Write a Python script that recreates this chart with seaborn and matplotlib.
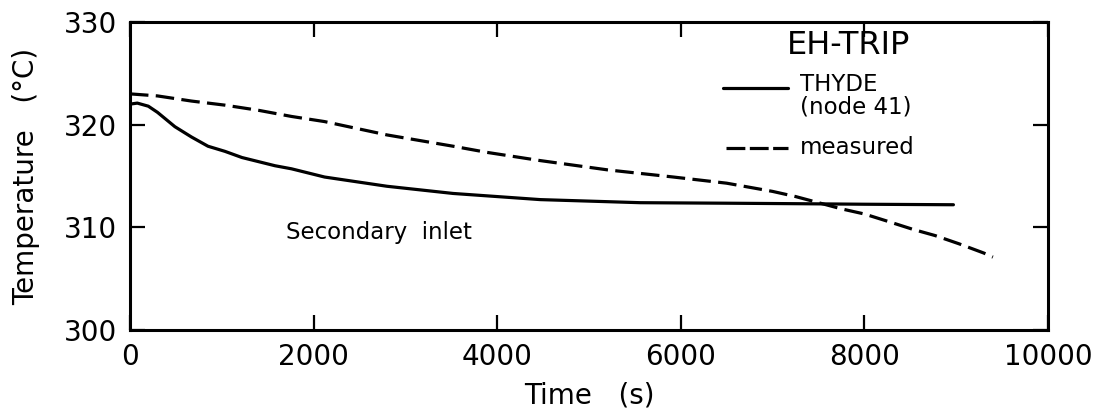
import matplotlib
matplotlib.use("Agg")
import matplotlib.pyplot as plt
import seaborn as sns
import pandas as pd
from matplotlib.lines import Line2D

# THYDE calculation, secondary inlet (node 41)
thyde_time = [0, 80, 200, 300, 490, 670, 850, 1035, 1220, 1400, 1580, 1760,
              1940, 2120, 2800, 3520, 4470, 5560, 6500, 7300, 8000, 8970]
thyde_temp = [322.0, 322.1, 321.8, 321.2, 319.8, 318.8, 317.9, 317.4, 316.8,
              316.4, 316.0, 315.7, 315.3, 314.9, 314.0, 313.3, 312.7, 312.4,
              312.35, 312.3, 312.25, 312.2]

# Measured secondary inlet temperature
meas_time = [0, 300, 670, 1035, 1400, 1760, 2120, 2800, 3520, 3890, 4470,
             5200, 5920, 6500, 7000, 7250, 7750, 8000, 8250, 8530, 8770, 9030,
             9300, 9400]
meas_temp = [323.0, 322.8, 322.3, 321.9, 321.4, 320.8, 320.3, 319.0, 317.9,
             317.3, 316.5, 315.6, 314.9, 314.3, 313.5, 313.0, 311.8, 311.3,
             310.6, 309.8, 309.2, 308.4, 307.5, 307.1]

x_ticks = [0, 2000, 4000, 6000, 8000, 10000]
y_ticks = [300, 310, 320, 330]

sns.set_theme(style="ticks")
plt.rcParams["font.family"] = ["DejaVu Sans"]
plt.rcParams["text.color"] = "black"
plt.rcParams["axes.labelcolor"] = "black"

fig = plt.figure(figsize=(11.05, 4.15), dpi=100)
ax = fig.add_axes([0.1176, 0.2048, 0.8308, 0.7422])

thyde = pd.DataFrame({"time": thyde_time, "temp": thyde_temp})
meas = pd.DataFrame({"time": meas_time, "temp": meas_temp})

lw = 2.3
sns.lineplot(data=thyde, x="time", y="temp", ax=ax, color="black", lw=lw)
sns.lineplot(data=meas, x="time", y="temp", ax=ax, color="black", lw=lw,
             dashes=False, linestyle=(0, (5.8, 2.3)))

ax.set_xlim(0, 10000)
ax.set_ylim(300, 330)
ax.set_xticks(x_ticks)
ax.set_yticks(y_ticks)
ax.set_xticklabels([str(v) for v in x_ticks])
ax.set_yticklabels([str(v) for v in y_ticks])

for s in ax.spines.values():
    s.set_visible(True)
    s.set_linewidth(2.2)
    s.set_color("black")

ax.tick_params(axis="both", which="major", direction="in", length=11,
               width=1.6, colors="black", labelsize=20,
               top=True, right=True)
ax.tick_params(axis="x", pad=9)
ax.tick_params(axis="y", pad=9)

ax.set_xlabel("Time   (s)", fontsize=20, labelpad=8)
ax.set_ylabel("Temperature   (°C)", fontsize=20, labelpad=17)

ax.text(1700, 309.5, "Secondary  inlet", fontsize=16.5, va="center",
        ha="left")

# Key
ax.text(0.783, 0.925, "EH-TRIP", transform=ax.transAxes, fontsize=23,
        ha="center", va="center")
ax.add_line(Line2D([0.646, 0.717], [0.786, 0.786], transform=ax.transAxes,
                   color="black", lw=lw))
ax.text(0.730, 0.76, "THYDE\n(node 41)", transform=ax.transAxes,
        fontsize=16.5, ha="left", va="center", linespacing=1.0)
ax.add_line(Line2D([0.649, 0.717], [0.591, 0.591], transform=ax.transAxes,
                   color="black", lw=lw, linestyle=(0, (5.9, 1.4))))
ax.text(0.730, 0.591, "measured", transform=ax.transAxes, fontsize=16.5,
        ha="left", va="center")

fig.savefig("out.png", dpi=100)
